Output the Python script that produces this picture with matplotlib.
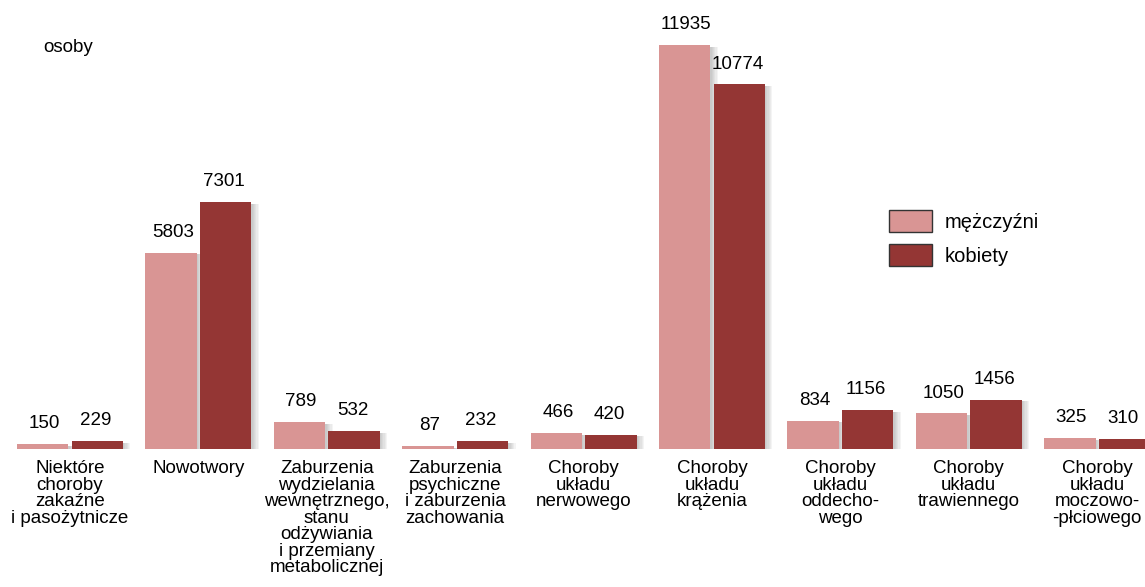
import matplotlib
matplotlib.use("Agg")
import matplotlib.pyplot as plt
import matplotlib.patheffects as pe
import numpy as np

categories = [
    "Niektóre\nchoroby\nzakaźne\ni pasożytnicze",
    "Nowotwory",
    "Zaburzenia\nwydzielania\nwewnętrznego,\nstanu\nodżywiania\ni przemiany\nmetabolicznej",
    "Zaburzenia\npsychiczne\ni zaburzenia\nzachowania",
    "Choroby\nukładu\nnerwowego",
    "Choroby\nukładu\nkrążenia",
    "Choroby\nukładu\noddecho-\nwego",
    "Choroby\nukładu\ntrawiennego",
    "Choroby\nukładu\nmoczowo-\n-płciowego",
]
men = [150, 5803, 789, 87, 466, 11935, 834, 1050, 325]
women = [229, 7301, 532, 232, 420, 10774, 1156, 1456, 310]
series_names = ["mężczyźni", "kobiety"]

plt.rcParams['font.family'] = ['Liberation Sans', 'DejaVu Sans']
FS = 13.5
LFS = 14.5
fig = plt.figure(figsize=(11.45, 5.87), dpi=100)
ax = fig.add_axes([5.8 / 1145, 138 / 587, 1155.6 / 1145, 440 / 587])

x = np.arange(len(categories))
w = 0.4
c_men = "#D99594"
c_women = "#943634"
shadow = [pe.SimplePatchShadow(offset=(k * 0.9, -1.2), shadow_rgbFace="#707070", alpha=0.07)
          for k in range(6, 0, -1)] + [pe.Normal()]

b1 = ax.bar(x - w / 2 - 0.012, men, w, color=c_men, label=series_names[0], zorder=2)
b2 = ax.bar(x + w / 2 + 0.012, women, w, color=c_women, label=series_names[1], zorder=2)
for b in list(b1) + list(b2):
    b.set_path_effects(shadow)

for xi, v in zip(x, men):
    ax.annotate(str(v), (xi - w / 2, v), xytext=(0, 8.5), textcoords="offset points",
                ha="center", va="bottom", fontsize=FS)
for xi, v in zip(x, women):
    ax.annotate(str(v), (xi + w / 2, v), xytext=(0, 8.5), textcoords="offset points",
                ha="center", va="bottom", fontsize=FS)

ax.set_xlim(-0.5, len(categories) - 0.5)
ax.set_ylim(0, 13000)
ax.set_xticks(x)
ax.set_xticklabels(categories, fontsize=FS, linespacing=0.96)
ax.tick_params(axis="x", length=0, pad=8)
ax.set_yticks([])
for s in ax.spines.values():
    s.set_visible(False)

fig.text(68 / 1145, 1 - 47 / 587, "osoby", fontsize=FS, ha="center", va="center")

leg = fig.legend(handles=[b1, b2], labels=series_names, loc="upper left",
                 bbox_to_anchor=(889 / 1145, 1 - 210 / 587), frameon=False, fontsize=LFS,
                 borderpad=0, borderaxespad=0,
                 handlelength=2.15, handleheight=1.3, handletextpad=0.6, labelspacing=0.6)
for h in leg.legend_handles:
    h.set_edgecolor("#333333")
    h.set_linewidth(1.0)
    h.set_path_effects([])

fig.savefig("out.png", dpi=100)
